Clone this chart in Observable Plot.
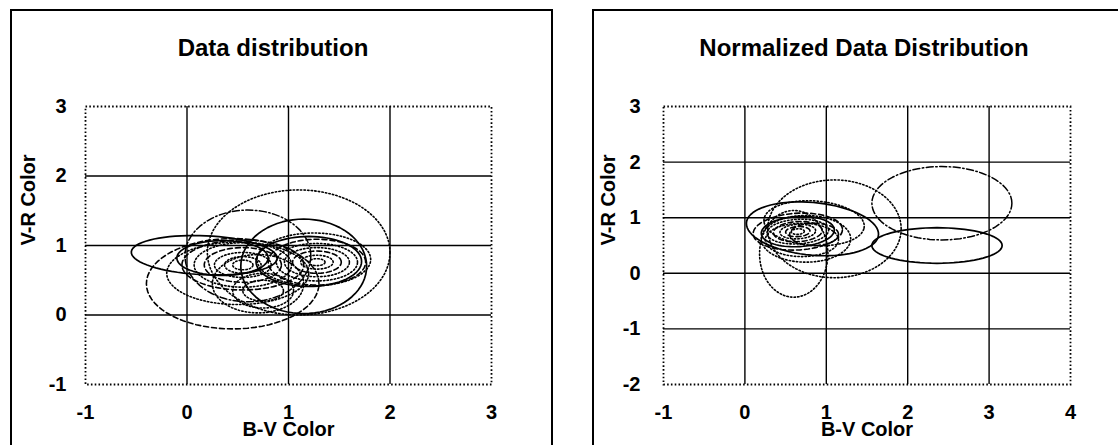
<!DOCTYPE html>
<html>
<head>
<meta charset="utf-8">
<script src="https://cdn.jsdelivr.net/npm/d3@7"></script>
<script src="https://cdn.jsdelivr.net/npm/@observablehq/plot@0.6"></script>
<style>
  html, body { margin: 0; padding: 0; background: #fff; }
  #wrap { position: relative; width: 1118px; height: 445px; overflow: hidden; background: #fff;
          font-family: "Liberation Sans", Arial, Helvetica, sans-serif; }
  .box { position: absolute; border: 2px solid #000; box-sizing: border-box; }
  .title { position: absolute; text-align: center; font-weight: bold; font-size: 24px; line-height: 24px; color: #000; }
  .panel { position: absolute; top: 0; }
  .panel svg { background: transparent !important; overflow: visible; }
</style>
</head>
<body>
<div id="wrap">
  <div class="box" style="left:10px; top:9px; width:543px; height:470px;"></div>
  <div class="box" style="left:592px; top:9px; width:560px; height:470px;"></div>
  <div class="title" style="left:73px; top:36px; width:400px;">Data distribution</div>
  <div class="title" style="left:614px; top:36px; width:500px;">Normalized Data Distribution</div>
  <div class="panel" id="p1" style="left:0px; width:560px;"></div>
  <div class="panel" id="p2" style="left:560px; width:558px;"></div>
</div>
<script>
// ---- Left panel: "Data distribution" (ellipse contours) ----
const leftXTicks = [-1, 0, 1, 2, 3];
const leftYTicks = [-1, 0, 1, 2, 3];
const leftGridX = [0, 1, 2];
const leftGridY = [0, 1, 2];
const leftCx    = [0.17, 0.35, 1.20, 1.15, 1.10, 0.60, 0.45, 0.70, 0.50, 0.55, 0.55, 0.55, 0.55, 0.55, 0.55, 1.28, 1.28, 1.28, 1.28, 1.28, 1.28, 0.75, 0.75, 1.25];
const leftCy    = [0.86, 0.82, 0.77, 0.70, 0.90, 0.85, 0.45, 0.45, 0.60, 0.72, 0.72, 0.72, 0.72, 0.72, 0.72, 0.76, 0.76, 0.76, 0.76, 0.76, 0.76, 0.35, 0.35, 0.80];
const leftRx    = [0.72, 0.45, 0.52, 0.62, 0.90, 0.62, 0.85, 0.45, 0.70, 0.60, 0.48, 0.38, 0.28, 0.18, 0.10, 0.48, 0.40, 0.32, 0.24, 0.16, 0.08, 0.30, 0.20, 0.56];
const leftRy    = [0.28, 0.25, 0.36, 0.68, 0.90, 0.66, 0.65, 0.42, 0.45, 0.36, 0.32, 0.25, 0.18, 0.12, 0.07, 0.33, 0.27, 0.21, 0.16, 0.10, 0.05, 0.25, 0.15, 0.38];
const leftAngle = [-4, 0, 0, 0, 0, 0, 0, 0, 0, 0, 0, 0, 0, 0, 0, 0, 0, 0, 0, 0, 0, 0, 0, 0];
const leftStyle = ["solid", "solid", "solid", "solid", "dotted", "dashdot", "dashed", "dotted", "dotted", "dashed",
                   "dotted", "dashed", "dotted", "dotted", "dotted", "dashed", "dotted", "dotted", "dashed", "dotted", "dotted",
                   "dotted", "dotted", "dotted"];

// ---- Right panel: "Normalized Data Distribution" ----
const rightXTicks = [-1, 0, 1, 2, 3, 4];
const rightYTicks = [-2, -1, 0, 1, 2, 3];
const rightGridX = [0, 1, 2, 3];
const rightGridY = [-1, 0, 1, 2];
const rightCx    = [2.42, 2.36, 1.10, 0.60, 0.83, 0.85, 0.75, 0.65, 0.65, 0.65, 0.65, 0.65, 0.65, 0.65, 0.85, 0.70];
const rightCy    = [1.26, 0.50, 0.80, 0.35, 0.80, 0.90, 0.62, 0.75, 0.75, 0.75, 0.75, 0.75, 0.75, 0.75, 0.70, 0.60];
const rightRx    = [0.86, 0.80, 0.82, 0.42, 0.82, 0.62, 0.55, 0.55, 0.45, 0.38, 0.30, 0.22, 0.15, 0.08, 0.30, 0.45];
const rightRy    = [0.66, 0.32, 0.88, 0.78, 0.47, 0.40, 0.42, 0.33, 0.27, 0.22, 0.18, 0.13, 0.09, 0.05, 0.20, 0.30];
const rightAngle = [0, 0, 0, 0, -10, -8, 0, 6, 6, 6, 6, 6, 6, 6, 0, 0];
const rightStyle = ["dashdot", "solid", "dotted", "dotted", "solid", "dotted", "dotted", "dashed", "solid",
                    "dotted", "dashed", "dotted", "dashed", "dotted", "dashed", "dotted"];

const dashes = { solid: null, dashed: "5,3", dotted: "1.4,2.2", dashdot: "7,2.5,1.5,2.5" };
const widths = { solid: 1.7, dashed: 1.6, dotted: 1.6, dashdot: 1.5 };

function outlines(cx, cy, rx, ry, ang, sty) {
  // outline of each read ellipse (centre, semi-axes, tilt), closed
  const rows = [];
  cx.forEach((c, i) => {
    const a = ang[i] * Math.PI / 180;
    for (let k = 0; k <= 72; k++) {
      const t = 2 * Math.PI * k / 72;
      const ex = rx[i] * Math.cos(t), ey = ry[i] * Math.sin(t);
      rows.push({ id: i, style: sty[i],
        x: c + ex * Math.cos(a) - ey * Math.sin(a),
        y: cy[i] + ex * Math.sin(a) + ey * Math.cos(a) });
    }
  });
  return rows;
}

function panel(cfg) {
  const rows = outlines(cfg.cx, cfg.cy, cfg.rx, cfg.ry, cfg.ang, cfg.sty);
  const lineMarks = Object.keys(dashes).map(s => Plot.line(rows.filter(r => r.style === s), {
    x: "x", y: "y", z: "id", stroke: "#000", strokeWidth: widths[s],
    strokeDasharray: dashes[s] || undefined, curve: "linear"
  }));
  return Plot.plot({
    width: cfg.width, height: 445,
    marginLeft: cfg.ml, marginRight: cfg.mr, marginTop: 106, marginBottom: 61,
    style: { background: "transparent", fontFamily: "'Liberation Sans', Arial, sans-serif",
             fontSize: "20px", fontWeight: "bold", color: "#000", overflow: "visible" },
    x: { domain: cfg.xd, ticks: cfg.xt, tickSize: 0, tickPadding: 20, label: null, tickFormat: d => String(d) },
    y: { domain: cfg.yd, ticks: cfg.yt, tickSize: 0, tickPadding: cfg.yp, label: null, tickFormat: d => String(d) },
    marks: [
      Plot.ruleX(cfg.gx, { stroke: "#000", strokeWidth: 1.4 }),
      Plot.ruleY(cfg.gy, { stroke: "#000", strokeWidth: 1.4 }),
      Plot.frame({ stroke: "#000", strokeWidth: 1.8, strokeDasharray: "1.6,2.2" }),
      ...lineMarks,
      Plot.text(["B-V Color"], { text: d => d, frameAnchor: "bottom", dy: 51,
        fontSize: 20, fontWeight: "bold", fill: "#000" }),
      Plot.text(["V-R Color"], { text: d => d, frameAnchor: "left", dx: cfg.ydx, rotate: -90,
        fontSize: 20, fontWeight: "bold", fill: "#000" })
    ]
  });
}

document.getElementById("p1").append(panel({
  width: 560, ml: 85, mr: 69, xd: [-1, 3], yd: [-1, 3], xt: leftXTicks, yt: leftYTicks,
  gx: leftGridX, gy: leftGridY, yp: 19, ydx: -57,
  cx: leftCx, cy: leftCy, rx: leftRx, ry: leftRy, ang: leftAngle, sty: leftStyle
}));
document.getElementById("p2").append(panel({
  width: 558, ml: 103, mr: 48, xd: [-1, 4], yd: [-2, 3], xt: rightXTicks, yt: rightYTicks,
  gx: rightGridX, gy: rightGridY, yp: 23, ydx: -55,
  cx: rightCx, cy: rightCy, rx: rightRx, ry: rightRy, ang: rightAngle, sty: rightStyle
}));
</script>
</body>
</html>
